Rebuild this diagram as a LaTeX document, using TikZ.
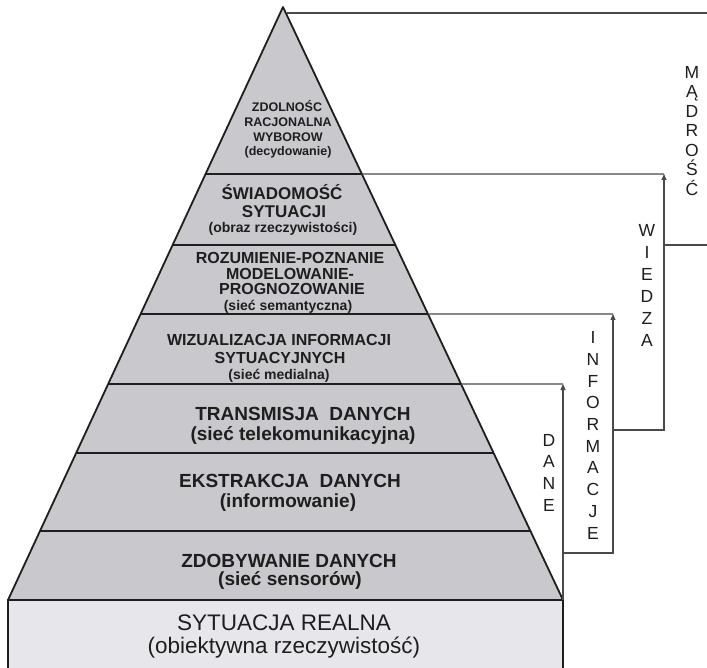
\documentclass[tikz,border=0pt]{standalone}
\usepackage{fontspec}
\setmainfont{Liberation Sans}
\usetikzlibrary{arrows.meta,calc}
\definecolor{pyr}{HTML}{C9C9CD}
\definecolor{basec}{HTML}{E7E7EB}
\definecolor{ink}{HTML}{1E1E1E}
\definecolor{thinc}{HTML}{4A4A4A}
\begin{document}
\begin{tikzpicture}[x=1pt,y=-1pt,
  txt/.style={anchor=base,inner sep=0pt,text=ink},
  bA/.style={txt,font=\bfseries\fontsize{12.5}{15}\selectfont},
  bB/.style={txt,font=\bfseries\fontsize{17}{20}\selectfont},
  bC/.style={txt,font=\bfseries\fontsize{16}{19}\selectfont},
  bP/.style={txt,font=\bfseries\fontsize{14}{17}\selectfont},
  bD/.style={txt,font=\bfseries\fontsize{19}{22}\selectfont},
  rB/.style={txt,font=\fontsize{22.5}{26}\selectfont},
  side/.style={txt,font=\fontsize{17.5}{20}\selectfont},
  band/.style={draw=ink,line width=2pt},
  edge/.style={draw=ink,line width=1.8pt,line join=round},
  thinl/.style={draw=thinc,line width=1.1pt},
  arr/.style={thinl,-{Triangle[width=5pt,length=6pt]}}
]
\useasboundingbox (0,0) rectangle (707,668);
\fill[white] (0,0) rectangle (707,668);
% pyramid
\coordinate (A) at (283,7);
\coordinate (BL) at (8,600);
\coordinate (BR) at (563,600);
\coordinate (BLo) at (8,670);
\coordinate (BRo) at (563,670);
\fill[pyr] (A) -- (BL) -- (BR) -- cycle;
\fill[basec] (BL) rectangle (BRo);
\draw[edge] (BLo) -- (BL) -- (BR) -- (BRo);
\foreach \y/\n in {174/1,245/2,314/3,384/4,453/5,531/6} {
  \pgfmathsetmacro\t{(\y-7)/593}
  \coordinate (L\n) at ($(A)!\t!(BL)$);
  \coordinate (R\n) at ($(A)!\t!(BR)$);
  \draw[band] (L\n) -- (R\n);
}
\draw[edge] (BL) -- (A) -- (BR);
% right brackets
\coordinate (Atop) at (287,13);
\coordinate (Mtop) at (707,13);
\coordinate (Mbot) at (707,245);
\coordinate (W1) at (664,174);
\coordinate (W2) at (664,430);
\coordinate (W3) at (613,430);
\coordinate (Wm) at (664,245);
\coordinate (I1) at (613,314);
\coordinate (I2) at (613,553);
\coordinate (I3) at (563,553);
\coordinate (D1) at (563,384);
\draw[thinl] (Atop) -- (Mtop);
\draw[thinl] (Wm) -- (Mbot);
\draw[thinl] (R1) -- (W1);
\draw[arr] (W3) -- (W2) -- (W1);
\draw[thinl] (R3) -- (I1);
\draw[arr] (I3) -- (I2) -- (I1);
\draw[thinl] (R4) -- (D1);
\draw[arr] (BR) -- (D1);
% band texts
\node[bA] (t1a) at (287,111.5) {ZDOLNOŚC};
\node[bA] (t1b) at (288,126.5) {RACJONALNA};
\node[bA] (t1c) at (288,141.5) {WYBOROW};
\node[bA] (t1d) at (288,155.5) {(decydowanie)};
\node[bB] (t2a) at (282,199.5) {ŚWIADOMOŚĆ};
\node[bB] (t2b) at (284,218) {SYTUACJI};
\node[bP] (t2c) at (283,232.5) {(obraz rzeczywistości)};
\node[bC] (t3a) at (290,264) {ROZUMIENIE-POZNANIE};
\node[bC] (t3b) at (290,279.5) {MODELOWANIE-};
\node[bC] (t3c) at (292,295) {PROGNOZOWANIE};
\node[bP] (t3d) at (288,311) {(sieć semantyczna)};
\node[bC] (t4a) at (279,345) {WIZUALIZACJA INFORMACJI};
\node[bC] (t4b) at (280,363) {SYTUACYJNYCH};
\node[bP] (t4c) at (279,380) {(sieć medialna)};
\node[bD] (t5a) at (303,420) {TRANSMISJA\ \ DANYCH};
\node[bD] (t5b) at (303,440.5) {(sieć telekomunikacyjna)};
\node[bD] (t6a) at (290,487) {EKSTRAKCJA\ \ DANYCH};
\node[bD] (t6b) at (288,507.5) {(informowanie)};
\node[bD] (t7a) at (289,567) {ZDOBYWANIE DANYCH};
\node[bD] (t7b) at (290,585.5) {(sieć sensorów)};
\node[rB] (t8a) at (284,630) {SYTUACJA REALNA};
\node[rB] (t8b) at (284,653) {(obiektywna rzeczywistość)};
% side labels
\foreach \ch [count=\i] in {M,Ą,D,R,O,Ś,Ć}
  \node[side] (m\i) at (692,{72+19.5*(\i-1)+6.2}) {\ch};
\foreach \ch [count=\i] in {W,I,E,D,Z,A}
  \node[side] (w\i) at (647,{230+22*(\i-1)+6.2}) {\ch};
\foreach \ch [count=\i] in {I,N,F,O,R,M,A,C,J,E}
  \node[side] (i\i) at (593,{337.5+21.7*(\i-1)+6.2}) {\ch};
\foreach \ch [count=\i] in {D,A,N,E}
  \node[side] (d\i) at (549,{440+21.7*(\i-1)+6.2}) {\ch};
\end{tikzpicture}
\end{document}
